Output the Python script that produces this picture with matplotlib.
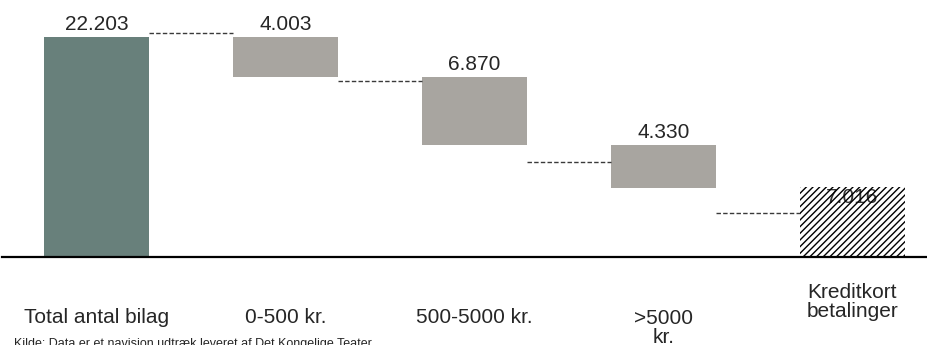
import matplotlib
matplotlib.use("Agg")
import matplotlib.pyplot as plt
from matplotlib.transforms import blended_transform_factory

plt.rcParams['font.family'] = ['Liberation Sans', 'DejaVu Sans']
plt.rcParams['hatch.linewidth'] = 1.0

# Waterfall data (antal bilag)
categories = ["Total antal bilag", "0-500 kr.", "500-5000 kr.", ">5000\nkr.", "Kreditkort\nbetalinger"]
values = [22203, 4003, 6870, 4330, 7016]
kinds = ["total", "step", "step", "step", "rest"]
connector_levels = [22570, 17760, 9560, 4410]
source = "Kilde: Data er et navision udtræk leveret af Det Kongelige Teater"

TEAL = "#68807B"
GREY = "#A8A5A0"
TEXT = "#262626"

W, H = 928, 345
fig = plt.figure(figsize=(W / 100, H / 100), dpi=100)
ax = fig.add_axes([2 / W, 88 / H, 1 - 2 / W, 257 / H])
ax.set_xlim(-0.5, 4.4)
ax.set_ylim(0, 25930)
ax.axis("off")

width = 0.556
running = values[0]
for i, (v, k) in enumerate(zip(values, kinds)):
    label = f"{v:,}".replace(",", ".")
    if k == "total":
        ax.bar(i, v, width=width, color=TEAL, zorder=2)
        top = v
        running = v
    elif k == "step":
        bottom = running - v
        ax.bar(i, v, bottom=bottom, width=width, color=GREY, zorder=2)
        top = running
        running = bottom
    else:
        ax.bar(i, v, width=width, facecolor="none", edgecolor="black",
               hatch="/////", linewidth=0, zorder=3)
        top = v
    if k == "rest":
        ax.annotate(label, (i, top), xytext=(0, -0.5), textcoords="offset points",
                    ha="center", va="top", fontsize=15, color="#333333", zorder=2)
    else:
        ax.annotate(label, (i, top), xytext=(0, 5), textcoords="offset points",
                    ha="center", va="baseline", fontsize=15, color=TEXT, zorder=4)

# dashed connectors between neighbouring bars
for i, lvl in enumerate(connector_levels):
    ax.plot([i + width / 2, i + 1 - width / 2], [lvl, lvl], color="#3a3a3a",
            linewidth=1.0, linestyle=(0, (3.2, 1.6)), zorder=2)

# baseline
ax.plot([-0.5, 4.4], [0, 0], color="black", linewidth=1.6, clip_on=False, zorder=5)

# category labels below the axis
tr = blended_transform_factory(ax.transData, fig.transFigure)
label_tops = [308, 308, 308, 309, 283]
for i, (cat, ytop) in enumerate(zip(categories, label_tops)):
    ax.text(i, 1 - ytop / H, cat, transform=tr, ha="center", va="top",
            fontsize=15, color=TEXT, linespacing=1.0)

fig.text(14 / W, 1 - 337.5 / H, source, ha="left", va="top", fontsize=9, color=TEXT)

fig.savefig("out.png", dpi=100)
